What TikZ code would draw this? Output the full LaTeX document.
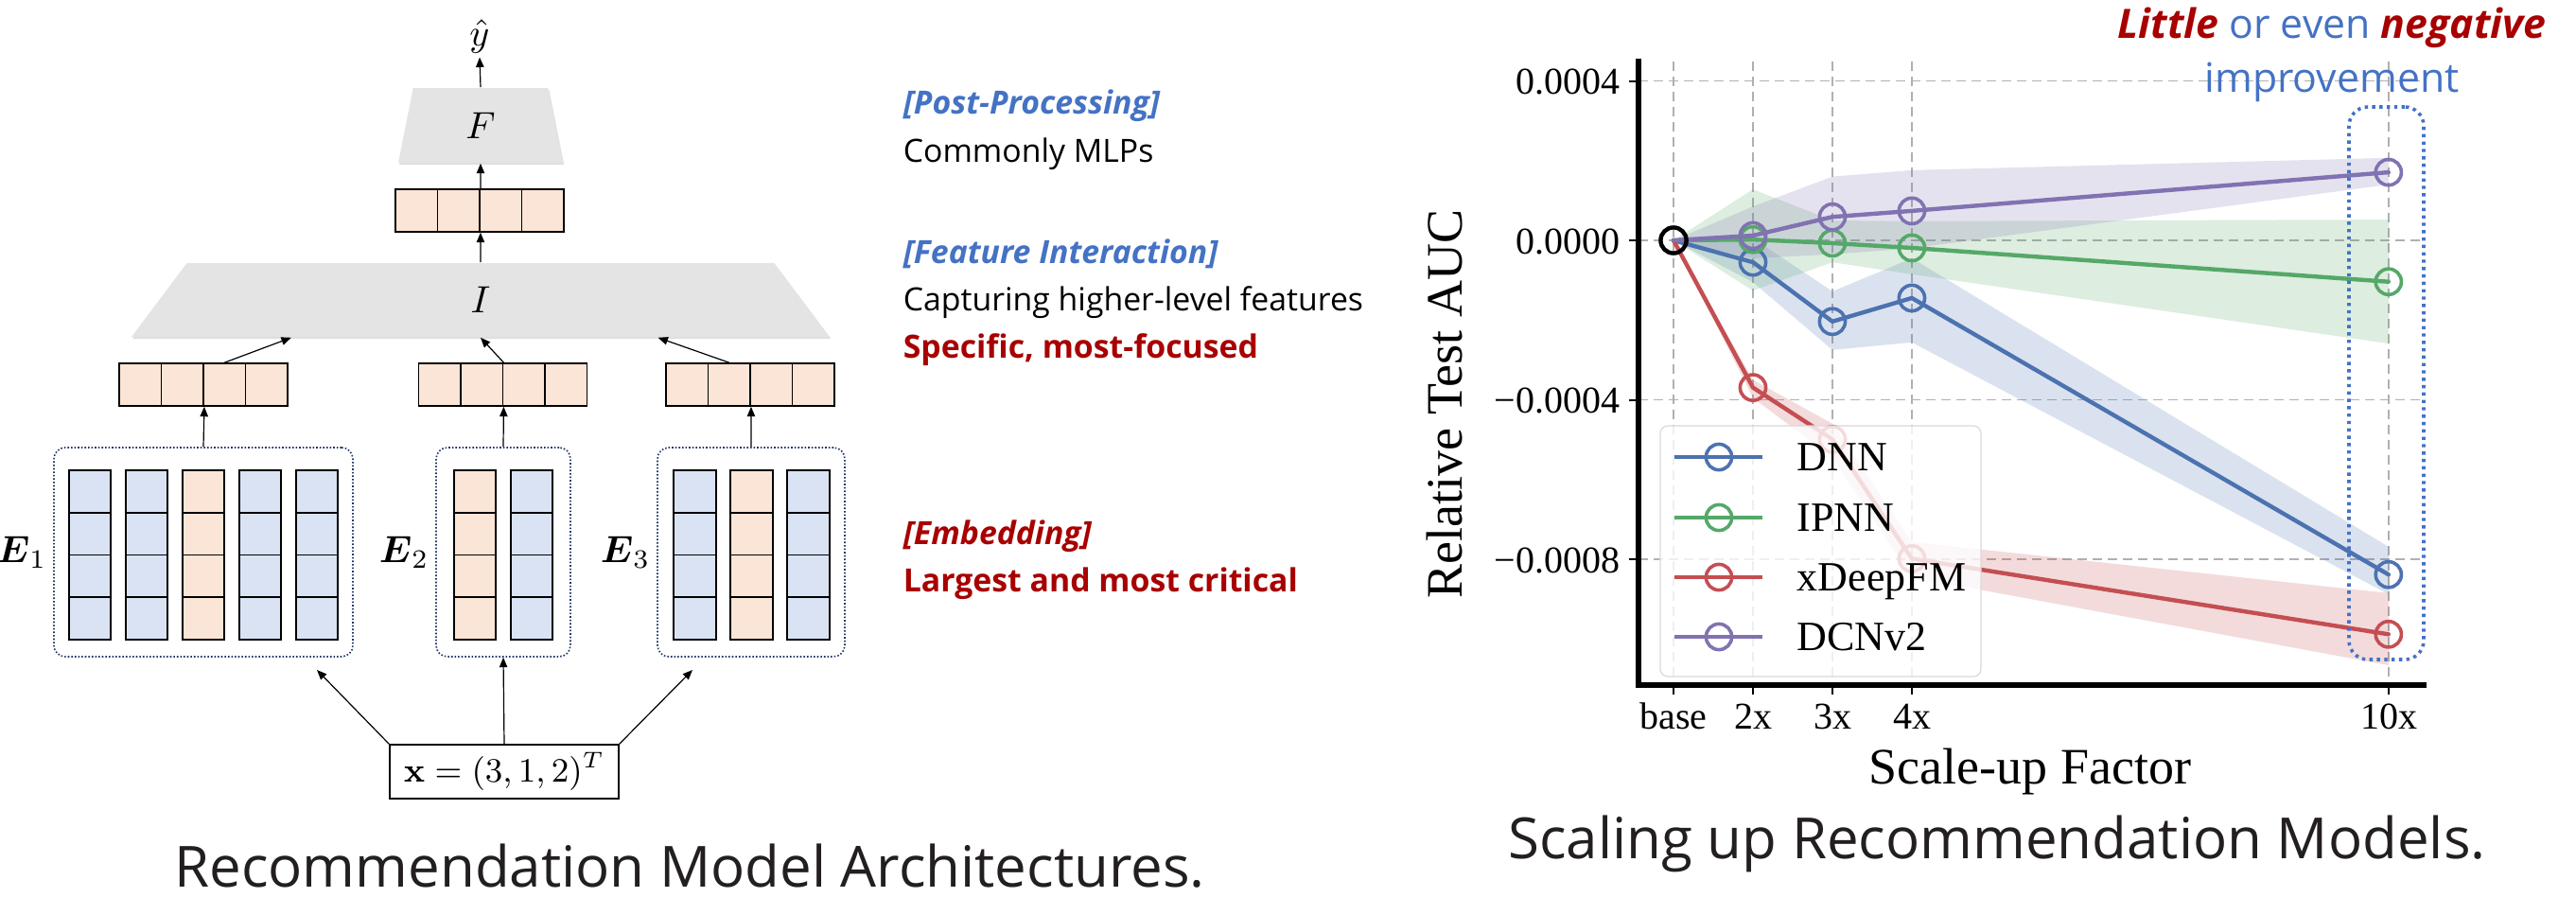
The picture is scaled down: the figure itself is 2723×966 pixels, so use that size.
\documentclass[tikz,border=0pt]{standalone}
\usepackage{amsmath}
\usepackage{amssymb}
\usepackage[no-math]{fontspec}
\usepackage{tikz}
\usetikzlibrary{arrows.meta,shapes.geometric,shadows,calc}

\newfontfamily\uisans{Open Sans}
\newfontfamily\plotserif{Liberation Serif}

\definecolor{peach}{HTML}{FBE5D6}
\definecolor{paleblue}{HTML}{DAE3F3}
\definecolor{navy}{HTML}{203864}
\definecolor{accblue}{HTML}{4472C4}
\definecolor{darkred}{HTML}{A80000}
\definecolor{trapgray}{HTML}{E4E4E4}
\definecolor{captext}{HTML}{231F20}
\definecolor{dnncol}{HTML}{4C72B0}
\definecolor{ipnncol}{HTML}{55A868}
\definecolor{xdfmcol}{HTML}{C44E52}
\definecolor{dcncol}{HTML}{8172B2}
\definecolor{gridcol}{HTML}{B0B0B0}

\newcommand*{\emb}[1][]{\ensuremath{\boldsymbol{E}_{#1}}}
\newcommand*{\labfont}{\uisans\fontsize{8.45}{10}\selectfont}
\newcommand*{\notefont}{\uisans\fontsize{10.7}{13}\selectfont}
\newcommand*{\capfont}{\uisans\fontsize{15}{18}\selectfont}
\newcommand*{\tickfont}{\plotserif\fontsize{10}{12}\selectfont}
\newcommand*{\legfont}{\plotserif\fontsize{11}{13}\selectfont}
\newcommand*{\axfont}{\plotserif\fontsize{13.5}{16}\selectfont}

\tikzset{
  cell/.style={draw, line width=0.45pt, minimum width=11.15pt, minimum height=11.2pt,
    inner sep=0pt, fill=peach},
  embbox/.style={draw=navy, line width=0.4pt, dash pattern=on 0.4pt off 0.5pt,
    rounded corners=3pt, minimum height=55.25pt},
  trap/.style={trapezium, trapezium stretches body, fill=trapgray, inner sep=0pt,
    drop shadow={shadow xshift=0.3pt, shadow yshift=-0.5pt, opacity=0.25}},
  arr/.style={-{Triangle[length=2.6pt,width=2.1pt]}, line width=0.3pt},
  gridline/.style={draw=gridcol, line width=0.4pt, dash pattern=on 2.6pt off 1.4pt},
  plotline/.style={line width=1.1pt, line join=round, line cap=round},
  ring/.style={circle, line width=0.9pt, minimum size=6.8pt, inner sep=0pt},
  spine/.style={line width=1.3pt, line cap=rect},
  axtick/.style={line width=0.5pt},
  hilite/.style={draw=accblue, line width=0.9pt, dash pattern=on 0.85pt off 1.1pt,
    rounded corners=5pt}
}

\begin{document}
\begin{tikzpicture}[x=0.25pt, y=-0.25pt]
  \fill[white] (0,0) rectangle (2723,966);
  \useasboundingbox (0,0) rectangle (2723,966);

  % architecture
  \node[trap, trapezium left angle=60, trapezium right angle=60,
    minimum width=43.5pt, minimum height=19.75pt] (F) at (508,132.5) {$F$};
  \node[trap, trapezium left angle=25, trapezium right angle=25,
    minimum width=184.5pt, minimum height=19.5pt] (I) at (508,317) {$I$};
  \node[inner sep=1pt] (yh) at (507,38) {$\hat{y}$};

  \foreach \i in {0,...,3}
    \node[cell] (tc\i) at ({440.25+44.5*\i}, 222.5) {};

  \foreach \g/\cx in {1/215, 2/531.5, 3/793}
    \foreach \i in {0,...,3}
      \node[cell] (v\g c\i) at ({\cx+44.5*(\i-1.5)}, 406.5) {};

  \foreach \g/\cx/\w in {1/215/79, 2/532/35.5, 3/794/49.5}
    \node[embbox, minimum width=\w pt] (E\g) at (\cx, 583.5) {};

  \foreach \x/\cl [count=\k] in {95/paleblue, 155/paleblue, 215/peach, 275/paleblue,
      335/paleblue, 502/peach, 562/paleblue, 734.5/paleblue, 794.5/peach, 854.5/paleblue}
    \foreach \j in {0,...,3}
      \node[cell, fill=\cl] (col\k r\j) at (\x, {519.4+44.75*\j}) {};

  \foreach \g in {1,2,3}
    \node[anchor=east, inner sep=1.5pt] (lbE\g) at (E\g.west) {\emb[\g]};

  \node[draw, line width=0.4pt, minimum width=60.5pt, minimum height=14.25pt,
    inner sep=0pt] (xin) at (533,815.5) {\small$\mathbf{x} = (3,1,2)^T$};

  \coordinate (ia) at ($(I.bottom left corner)!0.23!(I.bottom right corner)$);
  \coordinate (ic) at ($(I.bottom left corner)!0.753!(I.bottom right corner)$);
  \coordinate (xa) at (335,708);
  \coordinate (xb) at (732,708);

  \draw[arr] (F.north) -- (yh.south);
  \draw[arr] (tc1.north east) -- (F.south);
  \draw[arr] (I.north) -- (tc1.south east);
  \draw[arr] (v1c2.north) -- (ia);
  \draw[arr] (v2c1.north east) -- (I.south);
  \draw[arr] (v3c1.north) -- (ic);
  \foreach \g in {1,2,3}
    \draw[arr] (E\g.north) -- (v\g c1.south east);
  \draw[arr] (xin.north) -- (E2.south);
  \draw[arr] (xin.north west) -- (xa);
  \draw[arr] (xin.north east) -- (xb);

  % stage notes
  \node[anchor=base west, inner sep=0pt, text=accblue] (pphead) at (954,120)
    {\labfont\bfseries\itshape [Post-Processing]};
  \node[anchor=base west, inner sep=0pt] (pptext) at (954,171) {\labfont Commonly MLPs};
  \node[anchor=base west, inner sep=0pt, text=accblue] (fihead) at (954,278)
    {\labfont\bfseries\itshape [Feature Interaction]};
  \node[anchor=base west, inner sep=0pt] (fitext) at (954,328)
    {\labfont Capturing higher-level features};
  \node[anchor=base west, inner sep=0pt, text=darkred] (finote) at (954,378)
    {\labfont\bfseries Specific, most-focused};
  \node[anchor=base west, inner sep=0pt, text=darkred] (emhead) at (954,575)
    {\labfont\bfseries\itshape [Embedding]};
  \node[anchor=base west, inner sep=0pt, text=darkred] (emnote) at (954,625)
    {\labfont\bfseries Largest and most critical};

  % scaling plot
  \begin{scope}[shift={(1769,254)}, xscale=84, yscale=-42.125]
    \foreach \t in {0,1,2,3,9}
      \draw[gridline] (\t,4.49) -- (\t,-11.16);
    \foreach \v in {4,0,-4,-8}
      \draw[gridline] (-0.44,\v) -- (9.44,\v);

    \fill[dnncol, fill opacity=0.2] (0,0) -- (1,0.05) -- (2,-1.28) -- (3,-0.45) -- (9,-7.69)
      -- (9,-8.88) -- (3,-2.56) -- (2,-2.75) -- (1,-1.05) -- cycle;
    \fill[ipnncol, fill opacity=0.2] (0,0) -- (1,1.28) -- (2,0.5) -- (3,0.48) -- (9,0.52)
      -- (9,-2.59) -- (3,-0.85) -- (2,-0.55) -- (1,-1.26) -- cycle;
    \fill[xdfmcol, fill opacity=0.2] (0,0) -- (1,-3.5) -- (2,-4.6) -- (3,-7.57) -- (9,-8.85)
      -- (9,-10.66) -- (3,-8.45) -- (2,-5.45) -- (1,-3.95) -- cycle;
    \fill[dcncol, fill opacity=0.2] (0,0) -- (1,0.85) -- (2,1.6) -- (3,1.76) -- (9,2.07)
      -- (9,1.4) -- (3,-0.2) -- (2,-0.35) -- (1,-0.45) -- cycle;

    \coordinate (base) at (0,0);
    \foreach \t/\v [count=\k] in {1/-0.55, 2/-2.04, 3/-1.45, 9/-8.4}
      \coordinate (dnn\k) at (\t,\v);
    \foreach \t/\v [count=\k] in {1/0.02, 2/-0.07, 3/-0.19, 9/-1.04}
      \coordinate (ipnn\k) at (\t,\v);
    \foreach \t/\v [count=\k] in {1/-3.7, 2/-5.0, 3/-8.0, 9/-9.9}
      \coordinate (xdfm\k) at (\t,\v);
    \foreach \t/\v [count=\k] in {1/0.12, 2/0.59, 3/0.74, 9/1.71}
      \coordinate (dcn\k) at (\t,\v);

    \foreach \s in {dnn, ipnn, xdfm, dcn} {
      \draw[plotline, \s col] (base) -- (\s1) -- (\s2) -- (\s3) -- (\s4);
      \foreach \k in {1,...,4}
        \node[ring, draw=\s col] (\s m\k) at (\s\k) {};
    }
    \node[ring, draw=black, line width=1.1pt] (basem) at (base) {};
  \end{scope}

  % legend
  \draw[rounded corners=2pt, draw=black!15, line width=0.3pt, fill=white, fill opacity=0.8]
    (1755,450) rectangle (2094,715);
  \foreach \nm/\cl/\yy in {DNN/dnncol/483, IPNN/ipnncol/547, xDeepFM/xdfmcol/610, DCNv2/dcncol/673} {
    \draw[plotline, \cl, line cap=butt] (1770,\yy) -- (1863,\yy);
    \node[ring, draw=\cl] (lg\nm) at (1817,\yy) {};
    \node[anchor=base west, inner sep=0pt] (lt\nm) at (1899,\yy+14.5) {\legfont \nm};
  }

  % axes
  \draw[spine] (1732,65) -- (1732,724) -- (2562,724);
  \foreach \yy/\lab in {85.5/0.0004, 254/0.0000, 422.5/−0.0004, 591/−0.0008} {
    \draw[axtick] (1722,\yy) -- (1732,\yy);
    \node[anchor=base east, inner sep=0pt] (yl\yy) at (1713,\yy+14) {\tickfont \lab};
  }
  \foreach \xx/\lab in {1769/base, 1853/2x, 1937/3x, 2021/4x, 2525/10x} {
    \draw[axtick] (\xx,724) -- (\xx,734);
    \node[anchor=base, inner sep=0pt] (xl\lab) at (\xx,770) {\tickfont \lab};
  }
  \node[rotate=90, inner sep=0pt] (ylab) at (1527,427) {\axfont Relative Test AUC};
  \node[anchor=base, inner sep=0pt] (xlab) at (2146,828) {\axfont Scale-up Factor};

  % highlight of the 10x column
  \node[hilite, minimum width=19.75pt, minimum height=146pt, inner sep=0pt] (hl) at (2522.5,405) {};
  \node[anchor=base, inner sep=0pt, text=accblue] (note1) at (2465,40)
    {\notefont{\color{darkred}\bfseries\itshape Little} or even {\color{darkred}\bfseries\itshape negative}};
  \node[anchor=base, inner sep=0pt, text=accblue] (note2) at (2465,97) {\notefont improvement};

  % captions
  \node[anchor=base, inner sep=0pt, text=captext] (cap1) at (729,937)
    {\capfont Recommendation Model Architectures.};
  \node[anchor=base, inner sep=0pt, text=captext] (cap2) at (2111,907)
    {\capfont Scaling up Recommendation Models.};
\end{tikzpicture}
\end{document}
